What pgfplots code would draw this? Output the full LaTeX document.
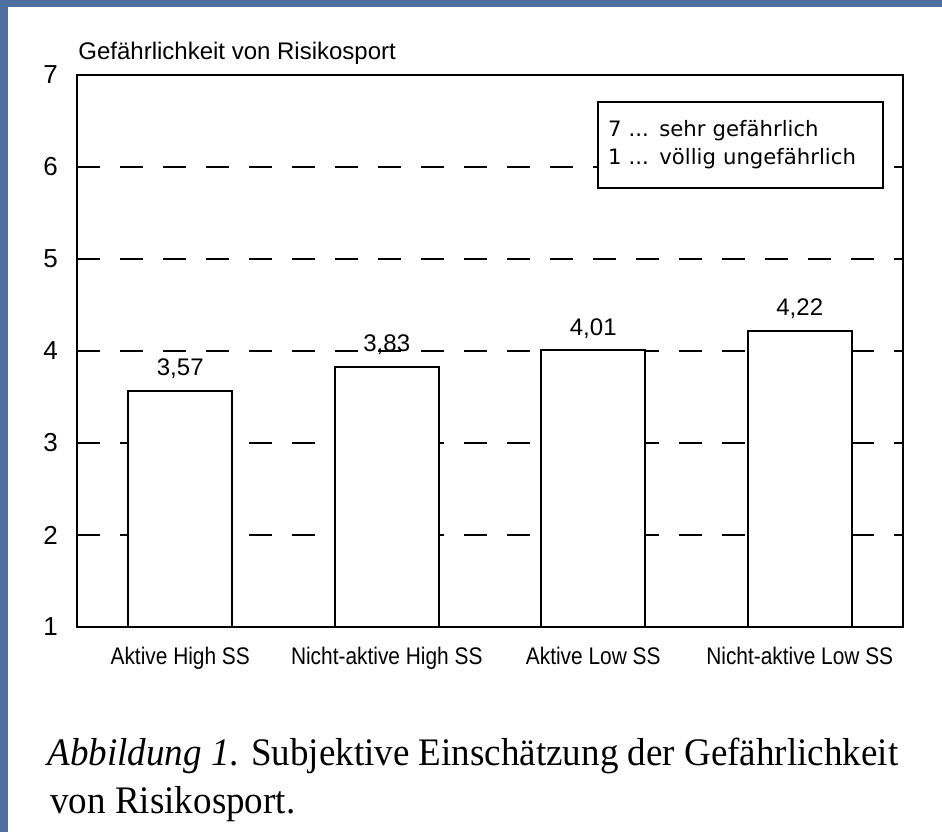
\documentclass[border=0pt]{standalone}
\usepackage{fontspec}
\setmainfont{Liberation Serif}[FakeStretch=0.95]
\newfontfamily\chartsans[FakeStretch=0.87]{Liberation Sans}
\newfontfamily\plainsans{Liberation Sans}
\newfontfamily\boxfont{DejaVu Sans}
\usepackage{pgfplots}
\pgfplotsset{compat=1.18}
\definecolor{slideblue}{RGB}{78,112,158}

\begin{document}
\begin{tikzpicture}
% slide background and white panel
\fill[slideblue] (0,0) rectangle (471pt,416pt);
\fill[white] (4pt,0) rectangle (471pt,412.5pt);
\useasboundingbox (0,0) rectangle (471pt,416pt);

\node[anchor=base west, font=\plainsans\fontsize{12}{14}\selectfont, inner sep=0pt]
  at (39pt,386pt) {Gefährlichkeit von Risikosport};

\begin{axis}[
  at={(38.5pt,102.5pt)}, anchor=south west,
  scale only axis, width=413pt, height=276pt,
  xmin=-0.5, xmax=3.5, ymin=1, ymax=7,
  enlargelimits=false,
  ytick={1,2,3,4,5,6,7},
  xtick={0,1,2,3},
  xticklabels={Aktive High SS, Nicht-aktive High SS, Aktive Low SS, Nicht-aktive Low SS},
  major tick length=0pt,
  axis line style={line width=1.2pt},
  ymajorgrids,
  y grid style={black, line width=1pt, dash pattern=on 11.5pt off 10pt},
  /pgf/number format/assume math mode=true,
  yticklabel style={font=\plainsans\fontsize{13}{15}\selectfont, xshift=-6pt},
  xticklabel style={font=\chartsans\fontsize{12}{14}\selectfont, yshift=-6.5pt},
]
\addplot[ybar, bar width=51.8pt, fill=white, draw=black, line width=1pt,
  nodes near coords={\pgfmathprintnumber[fixed,fixed zerofill,precision=2,use comma]{\pgfplotspointmeta}},
  every node near coord/.append style={font=\plainsans\fontsize{12}{14}\selectfont, anchor=base, yshift=7.5pt, inner sep=0pt}]
  coordinates {(0,3.57) (1,3.83) (2,4.01) (3,4.22)};

\node[draw, line width=1pt, fill=white, anchor=north east, minimum width=142.5pt,
  minimum height=43pt, text width=132.5pt, inner sep=5pt, align=left,
  font=\boxfont\fontsize{10.6}{14}\selectfont]
  at (rel axis cs:0.977,0.953) {7 ... sehr gefährlich\\1 ... völlig ungefährlich};
\end{axis}

\node[anchor=base west, font=\fontsize{19.5}{24.5}\selectfont, inner sep=0pt]
  at (23.5pt,33.5pt) {\textit{Abbildung 1}. Subjektive Einschätzung der Gefährlichkeit};
\node[anchor=base west, font=\fontsize{19.5}{24.5}\selectfont, inner sep=0pt]
  at (25pt,9.5pt) {von Risikosport.};
\end{tikzpicture}
\end{document}
